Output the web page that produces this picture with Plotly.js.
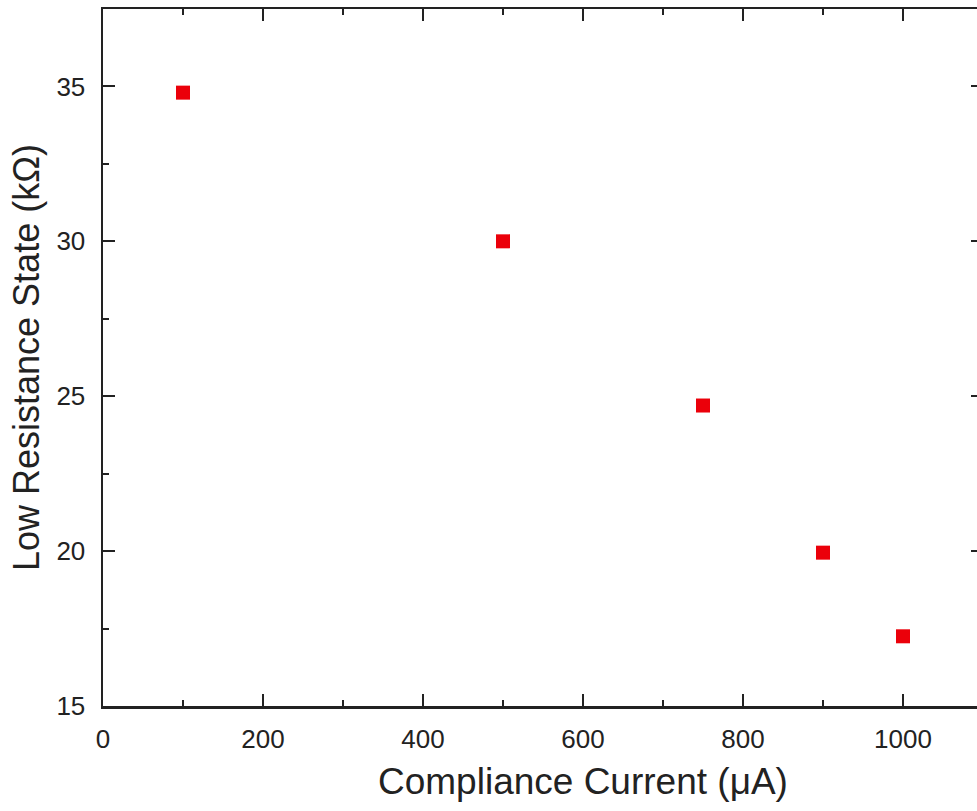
<!DOCTYPE html>
<html>
<head>
<meta charset="utf-8">
<script src="https://cdn.plot.ly/plotly-3.0.1.min.js"></script>
<style>
html,body{margin:0;padding:0;overflow:hidden;background:#fff;}
#chart{width:990px;height:811px;}
</style>
</head>
<body>
<div id="chart"></div>
<script>
const complianceCurrent = [100, 500, 750, 900, 1000];
const lowResistance = [34.8, 30.0, 24.7, 19.95, 17.25];
const xTickVals = [0, 200, 400, 600, 800, 1000];
const yTickVals = [15, 20, 25, 30, 35];
const xTitle = 'Compliance Current (μA)';
const yTitle = 'Low Resistance State (kΩ)';

const trace = {
  x: complianceCurrent,
  y: lowResistance,
  type: 'scatter',
  mode: 'markers',
  marker: {symbol: 'square', size: 14, color: 'rgb(235,0,10)'},
  showlegend: false
};

const fontFam = 'Liberation Sans, Arial, sans-serif';
const layout = {
  width: 990,
  height: 811,
  margin: {l: 103, r: 7, t: 9, b: 105},
  paper_bgcolor: '#fff',
  plot_bgcolor: '#fff',
  font: {family: fontFam, color: '#222'},
  xaxis: {
    range: [0, 1100],
    tickvals: xTickVals,
    ticks: 'inside',
    ticklen: 12,
    tickwidth: 2,
    tickcolor: '#222',
    minor: {ticks: 'inside', ticklen: 6, tickwidth: 2, tickcolor: '#222', dtick: 100, tick0: 0},
    showline: true,
    linecolor: '#222',
    linewidth: 2.5,
    mirror: 'ticks',
    showgrid: false,
    zeroline: false,
    tickfont: {size: 26, color: '#222'},
    ticklabelstandoff: 8
  },
  yaxis: {
    range: [15, 37.5],
    tickvals: yTickVals,
    ticks: 'inside',
    ticklen: 12,
    tickwidth: 2,
    tickcolor: '#222',
    minor: {ticks: 'inside', ticklen: 6, tickwidth: 2, tickcolor: '#222', dtick: 2.5, tick0: 15},
    showline: true,
    linecolor: '#222',
    linewidth: 2.5,
    mirror: 'ticks',
    showgrid: false,
    zeroline: false,
    tickfont: {size: 26, color: '#222'},
    ticklabelstandoff: 10,
    title: {text: yTitle, font: {size: 36, color: '#222'}, standoff: 6}
  },
  annotations: [{
    text: xTitle,
    xref: 'paper', yref: 'paper',
    x: 0.546, y: -0.108,
    xanchor: 'center', yanchor: 'middle',
    showarrow: false,
    font: {size: 37, color: '#222', family: fontFam}
  }]
};

Plotly.newPlot('chart', [trace], layout, {displayModeBar: false, staticPlot: true});
</script>
</body>
</html>
